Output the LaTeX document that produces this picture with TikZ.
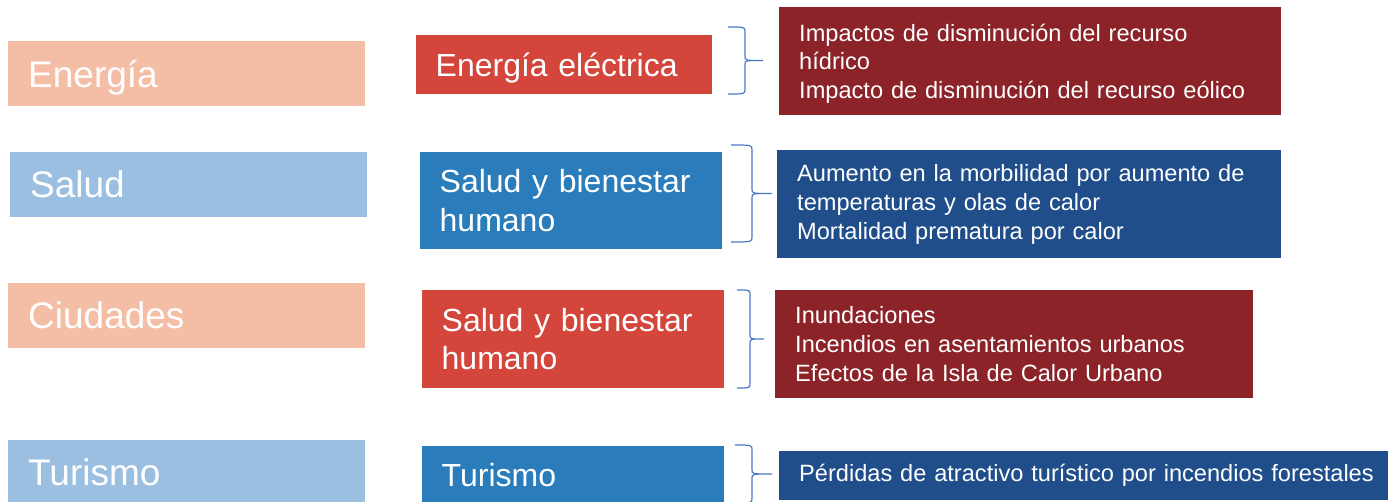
\documentclass[tikz,border=0pt]{standalone}
\usepackage{fontspec}
\setmainfont{Liberation Sans}
\definecolor{salmon}{HTML}{F4BDA5}
\definecolor{celeste}{HTML}{9BBFE0}
\definecolor{rojo}{HTML}{D4453B}
\definecolor{azul}{HTML}{2A7CBA}
\definecolor{granate}{HTML}{8B2329}
\definecolor{marino}{HTML}{1F4E8B}
\definecolor{trazo}{HTML}{4A78C8}
% llave: x extremo, y arriba, y abajo, x lomo, x punta
\newcommand{\llave}[5]{%
  \draw[llave] (#1,#2) .. controls (#4,#2) .. (#4,#2+5) -- (#4,{(#2+#3)/2-4})
    .. controls (#4,{(#2+#3)/2}) .. (#5,{(#2+#3)/2})
    .. controls (#4,{(#2+#3)/2}) .. (#4,{(#2+#3)/2+4}) -- (#4,#3-5)
    .. controls (#4,#3) .. (#1,#3);}
\begin{document}
\begin{tikzpicture}[x=1pt,y=-1pt,
    caja/.style={anchor=north west,inner sep=0pt,text=white,align=left},
    sector/.style={caja,minimum width=357pt,minimum height=65pt,text width=317pt,
      inner xsep=20pt,font=\fontsize{37}{44}\selectfont},
    tema/.style={caja,inner xsep=19.5pt,font=\fontsize{32}{38.4}\selectfont},
    impacto/.style={caja,inner xsep=20pt,minimum height=108pt,font=\fontsize{23.6}{28.8}\selectfont},
    llave/.style={trazo,line width=1.2pt}]
      \useasboundingbox (0,0) rectangle (1388,502);
      \clip (0,0) rectangle (1388,502);
      % sectores
      \node[sector,fill=salmon,text height=30pt,text depth=2pt] (energia) at (8,41) {Energía};
      \node[sector,fill=celeste] (salud) at (10,152) {Salud};
      \node[sector,fill=salmon] (ciudades) at (8,283) {Ciudades};
      \node[sector,fill=celeste] (turismo) at (8,440) {Turismo};
      % temas
      \node[tema,fill=rojo,minimum width=296pt,minimum height=59pt,text width=257pt,
        text height=25pt,text depth=2pt] (electrica) at (416,35) {Energía eléctrica};
      \node[tema,fill=azul,minimum width=302pt,minimum height=97pt,text width=263pt] (bienestar) at (420,152) {Salud y bienestar\\humano};
      \node[tema,fill=rojo,minimum width=302pt,minimum height=98pt,text width=263pt] (bienestarc) at (422,290) {Salud y bienestar\\humano};
      \node[tema,fill=azul,minimum width=302pt,minimum height=58pt,text width=263pt] (turistico) at (422,446) {Turismo};
      % impactos
      \node[impacto,fill=granate,minimum width=502pt,text width=462pt,text height=18pt,text depth=58pt] (impenergia) at (779,7)
        {Impactos de disminución del recurso\\hídrico\\Impacto de disminución del recurso eólico};
      \node[impacto,fill=marino,minimum width=504pt,text width=464pt] (impsalud) at (777,150)
        {Aumento en la morbilidad por aumento de\\temperaturas y olas de calor\\Mortalidad prematura por calor};
      \node[impacto,fill=granate,minimum width=478pt,text width=438pt] (impciudad) at (775,290)
        {Inundaciones\\Incendios en asentamientos urbanos\\Efectos de la Isla de Calor Urbano};
      \node[impacto,fill=marino,minimum width=640pt,minimum height=49pt,text width=600pt] (impturismo) at (779,451)
        {Pérdidas de atractivo turístico por incendios forestales};
      % llaves
      \llave{728}{27}{94}{745}{763}
      \llave{731}{145}{242}{752}{772}
      \llave{737}{290}{388}{750}{764}
      \llave{735}{445}{503}{752}{772}
\end{tikzpicture}
\end{document}
